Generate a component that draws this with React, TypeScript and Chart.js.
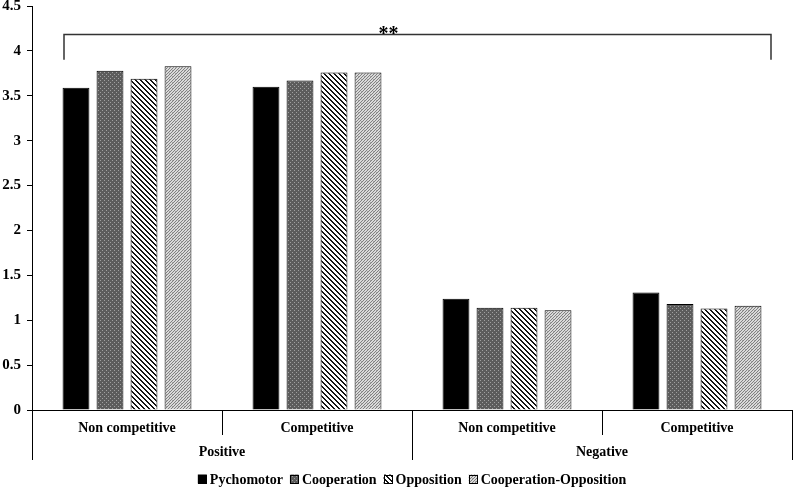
import React, { useEffect, useRef } from "react";
import { Chart, registerables } from "chart.js";

Chart.register(...registerables);

const categories = ["Non competitive", "Competitive", "Non competitive", "Competitive"];
const groupLabels = ["Positive", "Negative"];
const seriesNames = ["Pychomotor", "Cooperation", "Opposition", "Cooperation-Opposition"];
const pychomotor = [3.59, 3.6, 1.24, 1.31];
const cooperation = [3.78, 3.67, 1.14, 1.18];
const opposition = [3.69, 3.76, 1.14, 1.13];
const cooperationOpposition = [3.83, 3.76, 1.11, 1.16];
const yMin = 0;
const yMax = 4.5;
const yStep = 0.5;
const significance = "**";

const FONT = "'Liberation Serif', 'Times New Roman', serif";

function makeTile(size: number, draw: (c: CanvasRenderingContext2D) => void) {
  const cv = document.createElement("canvas");
  cv.width = size;
  cv.height = size;
  const c = cv.getContext("2d")!;
  draw(c);
  return cv;
}

function makePatterns(ctx: CanvasRenderingContext2D) {
  const solid = "#000000";
  const coopTile = makeTile(4, (c) => {
    c.fillStyle = "#5c5c5c";
    c.fillRect(0, 0, 4, 4);
    c.fillStyle = "#a0a0a0";
    c.fillRect(0, 0, 1, 1);
    c.fillRect(2, 2, 1, 1);
  });
  const oppTile = makeTile(5, (c) => {
    c.fillStyle = "#ffffff";
    c.fillRect(0, 0, 5, 5);
    c.fillStyle = "#151515";
    for (let x = 0; x < 5; x++)
      for (let y = 0; y < 5; y++) {
        const d = (((x - y) % 5) + 5) % 5;
        if (d === 0 || d === 1) c.fillRect(x, y, 1, 1);
      }
  });
  const coTile = makeTile(6, (c) => {
    c.fillStyle = "#dadada";
    c.fillRect(0, 0, 6, 6);
    c.fillStyle = "#808080";
    for (let x = 0; x < 6; x++)
      for (let y = 0; y < 6; y++) {
        const d = (x + y) % 6;
        if (d === 0 || d === 3) c.fillRect(x, y, 1, 1);
      }
    c.fillStyle = "#a8a8a8";
    c.fillRect(1, 1, 1, 1);
    c.fillRect(4, 4, 1, 1);
  });
  return [
    solid,
    ctx.createPattern(coopTile, "repeat")!,
    ctx.createPattern(oppTile, "repeat")!,
    ctx.createPattern(coTile, "repeat")!,
  ];
}

export default function App() {
  const ref = useRef<HTMLCanvasElement | null>(null);

  useEffect(() => {
    const canvas = ref.current!;
    const ctx = canvas.getContext("2d")!;
    const fills = makePatterns(ctx);
    const values = [pychomotor, cooperation, opposition, cooperationOpposition];

    const overlay = {
      id: "overlay",
      afterDraw(chart: any) {
        const c: CanvasRenderingContext2D = chart.ctx;
        const area = chart.chartArea;
        const xs = chart.scales.x;
        const ys = chart.scales.y;
        const n = categories.length;
        const catW = (area.right - area.left) / n;
        const y0 = ys.getPixelForValue(0);
        c.save();
        c.strokeStyle = "#000";
        c.lineWidth = 1;
        c.beginPath();
        c.moveTo(area.left, Math.round(y0) + 0.5);
        c.lineTo(area.right, Math.round(y0) + 0.5);
        c.stroke();
        for (let i = 0; i <= n; i++) {
          const x = Math.round(area.left + i * catW) + 0.5;
          const long = i % 2 === 0;
          c.beginPath();
          c.moveTo(x, y0);
          c.lineTo(x, y0 + (long ? 50 : 25));
          c.stroke();
        }
        c.fillStyle = "#000";
        c.font = `bold 14px ${FONT}`;
        c.textAlign = "center";
        c.textBaseline = "middle";
        for (let i = 0; i < n; i++) {
          c.fillText(categories[i], xs.getPixelForValue(i), y0 + 18);
        }
        for (let g = 0; g < groupLabels.length; g++) {
          const cx = area.left + (g * 2 + 1) * catW;
          c.fillText(groupLabels[g], cx, y0 + 42);
        }
        // bracket
        const bx1 = area.left + 32;
        const bx2 = area.right - 21;
        const by = Math.round(ys.getPixelForValue(4.19)) + 0.5;
        const byEnd = ys.getPixelForValue(3.9);
        c.strokeStyle = "#333";
        c.lineWidth = 1.5;
        c.beginPath();
        c.moveTo(bx1, byEnd);
        c.lineTo(bx1, by);
        c.lineTo(bx2, by);
        c.lineTo(bx2, byEnd);
        c.stroke();
        c.fillStyle = "#000";
        c.font = `bold 20px ${FONT}`;
        c.textBaseline = "alphabetic";
        c.fillText(significance, area.left + (area.right - area.left) * 0.469, by + 5);
        // legend
        c.font = `bold 14px ${FONT}`;
        const box = 9;
        const gapBox = 3;
        const gapItem = 7;
        const widths = seriesNames.map((s) => c.measureText(s).width);
        const total = widths.reduce((a, w) => a + box + gapBox + w, 0) + gapItem * (seriesNames.length - 1);
        let lx = (area.left + area.right) / 2 - total / 2;
        const ly = 479;
        c.textAlign = "left";
        c.textBaseline = "middle";
        for (let i = 0; i < seriesNames.length; i++) {
          c.fillStyle = fills[i] as any;
          c.fillRect(lx, ly - box / 2, box, box);
          c.strokeStyle = "#000";
          c.lineWidth = 1;
          c.strokeRect(Math.round(lx) + 0.5, Math.round(ly - box / 2) + 0.5, box - 1, box - 1);
          c.fillStyle = "#000";
          c.fillText(seriesNames[i], lx + box + gapBox, ly + 1);
          lx += box + gapBox + widths[i] + gapItem;
        }
        c.restore();
      },
    };

    const chart = new Chart(ctx, {
      type: "bar",
      data: {
        labels: categories,
        datasets: seriesNames.map((name, i) => ({
          label: name,
          data: values[i],
          backgroundColor: fills[i] as any,
          borderColor: "#000",
          borderWidth: 1,
          categoryPercentage: 0.716,
          barPercentage: 0.79,
        })),
      },
      options: {
        animation: false,
        responsive: true,
        maintainAspectRatio: false,
        layout: { padding: { top: 0, right: 1, left: 0, bottom: 0 } },
        plugins: { legend: { display: false }, tooltip: { enabled: false } },
        scales: {
          x: {
            ticks: { display: false },
            grid: { display: false },
            border: { display: false },
            afterFit: (s: any) => {
              s.height = 80;
            },
          },
          y: {
            min: yMin,
            max: yMax,
            ticks: {
              stepSize: yStep,
              color: "#000",
              padding: 6,
              font: { family: FONT, size: 15, weight: "bold" },
              callback: (v: any) => String(Number(v)),
            },
            grid: { drawOnChartArea: false, drawTicks: true, tickLength: 5, color: "#000" },
            border: { display: true, color: "#000", width: 1 },
            afterFit: (s: any) => {
              s.width = 32;
              s.paddingTop = 6;
              s.paddingBottom = 0;
            },
          },
        },
      },
      plugins: [overlay],
    });
    return () => chart.destroy();
  }, []);

  return (
    <div style={{ position: "absolute", left: 0, top: 0, width: 793, height: 490, background: "#fff" }}>
      <canvas ref={ref} />
    </div>
  );
}
